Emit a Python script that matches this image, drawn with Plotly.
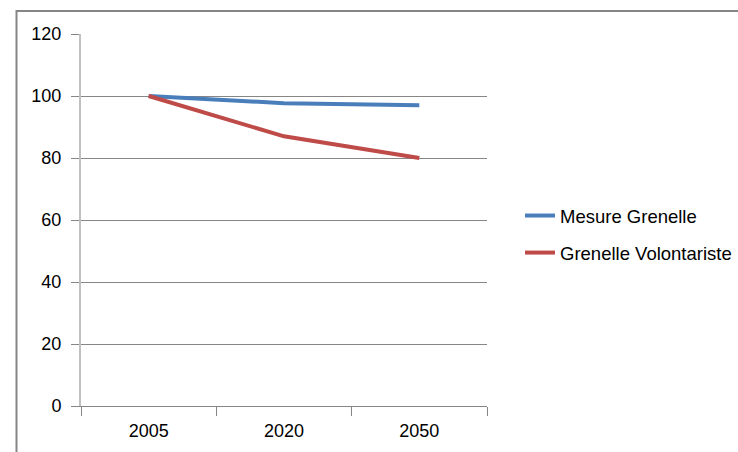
import plotly.graph_objects as go

categories = ["2005", "2020", "2050"]
mesure_grenelle = [100, 97.7, 97]
grenelle_volontariste = [100, 87, 80]
y_ticks = [0, 20, 40, 60, 80, 100, 120]

W, H = 738, 452
FONT = "Liberation Sans"

fig = go.Figure()
fig.add_trace(go.Scatter(x=categories, y=mesure_grenelle, mode="lines",
                         name="Mesure Grenelle", legendgroup="a",
                         line=dict(color="#4a7ebb", width=4)))
fig.add_trace(go.Scatter(x=categories, y=grenelle_volontariste, mode="lines",
                         name="Grenelle Volontariste", legendgroup="b",
                         line=dict(color="#be4b48", width=4)))

fig.update_layout(
    width=W, height=H, autosize=False,
    margin=dict(l=0, r=0, t=0, b=0, pad=0),
    paper_bgcolor="white", plot_bgcolor="white",
    font=dict(family=FONT, size=18, color="#000000"),
    showlegend=True,
    legend=dict(x=520 / W, y=1 - 197 / H, xanchor="left", yanchor="top",
                tracegroupgap=10, font=dict(size=18.5, family=FONT),
                bgcolor="rgba(0,0,0,0)"),
    xaxis=dict(domain=[81 / W, 487 / W], type="category", range=[-0.5, 2.5],
               showline=True, linecolor="#868686", linewidth=1,
               ticks="outside", tickson="boundaries", ticklen=9,
               tickcolor="#868686", showgrid=False, automargin=False,
               ticklabelstandoff=8,
               tickfont=dict(size=18, family=FONT)),
    yaxis=dict(domain=[1 - 406 / H, 1 - 34 / H], range=[0, 120],
               tickvals=y_ticks, showline=True, linecolor="#c0c0c0",
               linewidth=2, ticks="outside", ticklen=8, tickcolor="#868686",
               showgrid=True, gridcolor="#868686", gridwidth=1,
               zeroline=False, automargin=False, ticklabelstandoff=6,
               tickfont=dict(size=18, family=FONT)),
    shapes=[dict(type="rect", xref="paper", yref="paper",
                 x0=16.5 / W, x1=1.05, y0=-0.05, y1=1 - 11 / H,
                 line=dict(color="#868686", width=2), layer="below")],
)

fig.write_html("out.html", config={"responsive": False, "displayModeBar": False},
               post_script="document.body.style.margin='0';document.body.style.padding='0';document.body.style.overflow='hidden';")
